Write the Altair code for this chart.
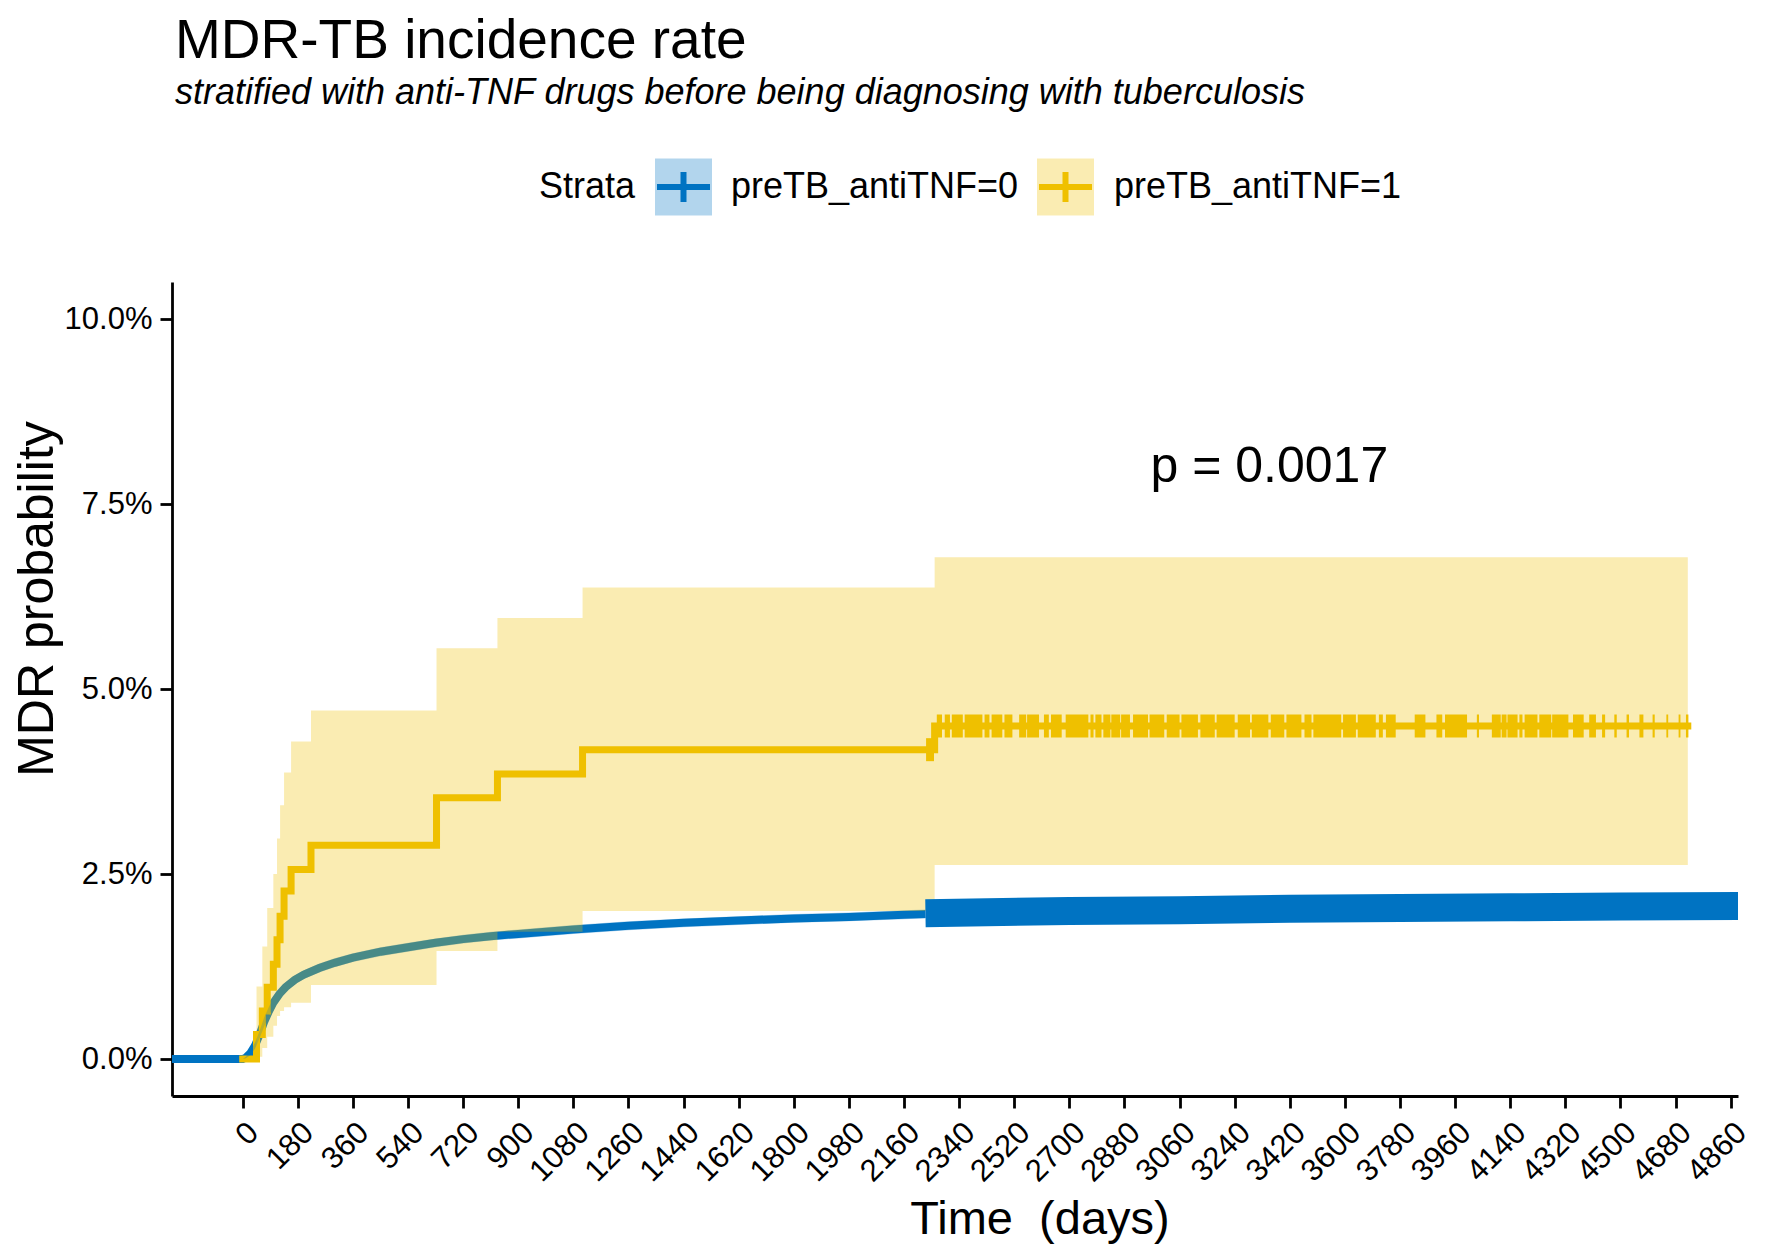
import altair as alt
import pandas as pd

FONT = "Liberation Sans"

TITLE = "MDR-TB incidence rate"
SUBTITLE = "stratified with anti-TNF drugs before being diagnosing with tuberculosis"
LEGEND_TITLE = "Strata"
STRATA = ["preTB_antiTNF=0", "preTB_antiTNF=1"]
COLORS = ["#0073C2", "#EFC000"]
X_TITLE = "Time\u00a0 (days)"
Y_TITLE = "MDR probability"
PVAL_TEXT = "p = 0.0017"
PVAL_T = [2965]
PVAL_Y = [0.08]

X_TICKS = [0, 180, 360, 540, 720, 900, 1080, 1260, 1440, 1620, 1800, 1980, 2160,
           2340, 2520, 2700, 2880, 3060, 3240, 3420, 3600, 3780, 3960, 4140, 4320,
           4500, 4680, 4860]
Y_TICKS = [0.0, 0.025, 0.05, 0.075, 0.10]

# preTB_antiTNF=0 (cumulative incidence)
blue_t = [-240, 0, 10, 25, 40, 55, 70, 85, 100, 120, 140, 170, 200, 250, 300, 360,
          450, 540, 630, 720, 810, 900, 1080, 1260, 1440, 1620, 1800, 1980, 2160, 2230]
blue_v = [0.0, 0.0, 0.0002, 0.0008, 0.0018, 0.0033, 0.0050, 0.0064, 0.0076, 0.0088,
          0.0097, 0.0107, 0.0114, 0.0123, 0.0130, 0.0137, 0.0145, 0.0151, 0.0157,
          0.0162, 0.0166, 0.0169, 0.0175, 0.0180, 0.0184, 0.0187, 0.0190, 0.0192,
          0.0195, 0.0196]
blue_lo = [0.0, 0.0, 0.0001, 0.0005, 0.0014, 0.0028, 0.0044, 0.0058, 0.0070, 0.0082,
           0.0091, 0.0101, 0.0108, 0.0117, 0.0124, 0.0131, 0.0139, 0.0145, 0.0151,
           0.0156, 0.0160, 0.0163, 0.0169, 0.0174, 0.0178, 0.0181, 0.0184, 0.0186,
           0.0189, 0.0190]
blue_hi = [0.0, 0.0, 0.0003, 0.0011, 0.0022, 0.0038, 0.0056, 0.0070, 0.0082, 0.0094,
           0.0103, 0.0113, 0.0120, 0.0129, 0.0136, 0.0143, 0.0151, 0.0157, 0.0163,
           0.0168, 0.0172, 0.0175, 0.0181, 0.0186, 0.0190, 0.0193, 0.0196, 0.0198,
           0.0201, 0.0202]
# dense censoring marks of stratum 0 (they merge into a solid band)
blue_cens_t = [2230, 2700, 3060, 3420, 3780, 4140, 4500, 4950]
blue_cens_v = [0.0197, 0.0200, 0.0201, 0.0203, 0.0204, 0.0205, 0.0206, 0.0207]

# preTB_antiTNF=1 (Kaplan-Meier steps)
yel_t = [0, 45, 64, 80, 100, 112, 122, 135, 158, 223, 633, 832, 1110, 2260, 4720]
yel_v = [0.0, 0.0033, 0.0065, 0.0097, 0.0128, 0.0161, 0.0193, 0.0227, 0.0256, 0.0289,
         0.0353, 0.0385, 0.0418, 0.0450, 0.0450]
yel_lo = [0.0, 0.0003, 0.0015, 0.0030, 0.0045, 0.0058, 0.0065, 0.0070, 0.0076, 0.0100,
          0.0146, 0.0172, 0.0200, 0.0262, 0.0262]
yel_hi = [0.0, 0.0098, 0.0152, 0.0204, 0.0250, 0.0298, 0.0343, 0.0387, 0.0429, 0.0471,
          0.0555, 0.0596, 0.0637, 0.0678, 0.0678]
# censoring marks of stratum 1: clusters (start, end) of '+' marks
yel_cens_start = [2232, 2267, 2293, 2316, 2358, 2423, 2446, 2488, 2536, 2562, 2617, 2640,
                  2688, 2769, 2785, 2811, 2837, 2869, 2908, 2962, 3018, 3066, 3128, 3181,
                  3250, 3296, 3358, 3409, 3468, 3497, 3594, 3642, 3711, 3734, 3828, 3899,
                  3927, 4031, 4080, 4112, 4131, 4170, 4187, 4235, 4277, 4345, 4398, 4440,
                  4480, 4520, 4562, 4605, 4650, 4690, 4714]
yel_cens_end = [2258, 2284, 2310, 2352, 2416, 2439, 2481, 2514, 2559, 2601, 2633, 2675,
                2762, 2779, 2805, 2834, 2866, 2898, 2957, 3010, 3060, 3120, 3175, 3240,
                3290, 3350, 3402, 3458, 3491, 3588, 3636, 3701, 3724, 3766, 3863, 3918,
                3999, 4038, 4109, 4128, 4164, 4180, 4229, 4274, 4330, 4380, 4420, 4450,
                4488, 4528, 4575, 4612, 4656, 4696, 4722]
yel_cens_v = [0.0418] + [0.0450] * (len(yel_cens_start) - 1)

blue_df = pd.DataFrame({"t": blue_t, "v": blue_v, "lo": blue_lo, "hi": blue_hi})
blue_c_df = pd.DataFrame({"t": blue_cens_t, "v": blue_cens_v})
yel_df = pd.DataFrame({"t": yel_t, "v": yel_v, "lo": yel_lo, "hi": yel_hi})
yel_c_df = pd.DataFrame({"t": yel_cens_start, "t2": yel_cens_end, "v": yel_cens_v})
pval_df = pd.DataFrame({"t": PVAL_T, "v": PVAL_Y, "s": [PVAL_TEXT]})

W, H = 1566, 814

xscale = alt.Scale(domain=[-231, 4884], nice=False, zero=False)
yscale = alt.Scale(domain=[-0.005, 0.105], nice=False, zero=False)

xaxis = alt.Axis(values=X_TICKS, format="d", title=None, labelAngle=-45,
                 labelAlign="right", labelBaseline="top", labelFontSize=31,
                 labelFont=FONT, labelColor="black", labelPadding=9, tickSize=12,
                 tickWidth=2.8, tickColor="black", domainColor="black",
                 domainWidth=2.8, grid=False, labelOverlap=False, labelFlush=False,
                 labelBound=False)
yaxis = alt.Axis(values=Y_TICKS, format=".1%", title=None, labelFontSize=31,
                 labelFont=FONT, labelColor="black", labelPadding=8, tickSize=12,
                 tickWidth=2.8, tickColor="black", domainColor="black",
                 domainWidth=2.8, grid=False, labelOverlap=False)

X = alt.X("t:Q", scale=xscale, axis=xaxis)
Y = alt.Y("v:Q", scale=yscale, axis=yaxis)

blue_line = alt.Chart(blue_df).mark_line(color=COLORS[0], strokeWidth=8, clip=True,
                                          strokeCap="butt").encode(x=X, y=Y)
yel_line = alt.Chart(yel_df).mark_line(color=COLORS[1], strokeWidth=7, clip=True,
                                        interpolate="step-after",
                                        strokeCap="square").encode(x=X, y=Y)
blue_band = alt.Chart(blue_df).mark_area(color=COLORS[0], opacity=0.3, clip=True).encode(
    x=X, y=alt.Y("lo:Q", scale=yscale, axis=yaxis), y2="hi:Q")
yel_band = alt.Chart(yel_df).mark_area(color=COLORS[1], opacity=0.3, clip=True,
                                        interpolate="step-after").encode(
    x=X, y=alt.Y("lo:Q", scale=yscale, axis=yaxis), y2="hi:Q")
blue_cens = alt.Chart(blue_c_df).mark_line(color=COLORS[0], strokeWidth=28, clip=True,
                                            strokeCap="butt").encode(x=X, y=Y)
yel_cens = alt.Chart(yel_c_df).mark_rule(color=COLORS[1], strokeWidth=23, clip=True,
                                          strokeCap="butt").encode(x=X, x2="t2:Q", y=Y)
pval = alt.Chart(pval_df).mark_text(font=FONT, fontSize=50, align="left",
                                     baseline="middle", color="black").encode(
    x=X, y=Y, text="s:N")


def label(txt, x, y, size, align="left", baseline="alphabetic", angle=0, style="normal"):
    return alt.Chart(alt.Data(values=[{"s": txt}])).mark_text(
        font=FONT, fontSize=size, align=align, baseline=baseline, angle=angle,
        fontStyle=style, color="black").encode(
        x=alt.value(x), y=alt.value(y), text="s:N")


def key(x0, color):
    size = 57
    cy = -95
    box = alt.Chart(alt.Data(values=[{"k": 1}])).mark_rect(color=color, opacity=0.3).encode(
        x=alt.value(x0), x2=alt.value(x0 + size),
        y=alt.value(cy - size / 2), y2=alt.value(cy + size / 2))
    hline = alt.Chart(alt.Data(values=[{"k": 1}])).mark_rule(color=color, strokeWidth=6).encode(
        x=alt.value(x0 + 2), x2=alt.value(x0 + size - 2), y=alt.value(cy))
    vline = alt.Chart(alt.Data(values=[{"k": 1}])).mark_rule(color=color, strokeWidth=6).encode(
        x=alt.value(x0 + size / 2), y=alt.value(cy - 15), y2=alt.value(cy + 15))
    return [box, hline, vline]


decor = [
    label(TITLE, 3, -224, 55),
    label(SUBTITLE, 3, -178, 36, style="italic"),
    label(LEGEND_TITLE, 367, -95, 36, baseline="middle"),
    *key(483, COLORS[0]),
    label(STRATA[0], 559, -95, 36, baseline="middle"),
    *key(865, COLORS[1]),
    label(STRATA[1], 942, -95, 36, baseline="middle"),
    label(Y_TITLE, -134, 317, 50, align="center", baseline="middle", angle=270),
    label(X_TITLE, 868, 952, 47, align="center"),
]

chart = alt.layer(
    blue_line, yel_line, blue_band, yel_band, blue_cens, yel_cens, pval, *decor
).properties(
    width=W, height=H,
    padding={"left": 164, "top": 274, "right": 20, "bottom": 149},
    autosize=alt.AutoSizeParams(type="none"),
    background="white",
).configure_view(stroke=None)

chart.save("out.html", embed_options={"renderer": "svg", "actions": False})
